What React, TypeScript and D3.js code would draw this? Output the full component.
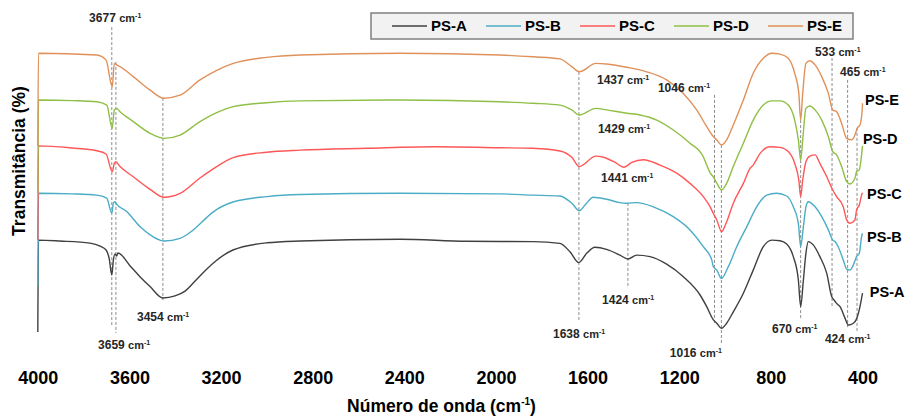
import React, { Component } from 'react';
import * as d3 from 'd3';

const FONT = '"Liberation Sans", Arial, sans-serif';

const seriesNames = ['PS-A', 'PS-B', 'PS-C', 'PS-D', 'PS-E'];
const seriesColors = ['#404040', '#4bacc6', '#ff5757', '#8fbf45', '#e0915a'];
// vertical shift of each trace (in % units) so the spectra are stacked
const seriesOffsets = [0, 15.5, 31, 46.5, 62];

const xTicks = [4000, 3600, 3200, 2800, 2400, 2000, 1600, 1200, 800, 400];

// [wavenumber (cm-1), transmittance (%)]
const psA = [
    [4000, 2.7], [3997, 33.3], [3903, 33.0], [3772, 32.3], [3728, 31.3], [3702, 30.0], [3688, 27.0], [3677, 21.7],
    [3670, 26.7], [3663, 28.7], [3656, 28.0], [3650, 29.0], [3597, 24.7], [3554, 21.1], [3510, 17.8], [3454, 14.0],
    [3401, 14.7], [3357, 16.3], [3309, 20.0], [3263, 23.6], [3219, 26.6], [3148, 30.0], [3000, 32.4], [2855, 33.0],
    [2419, 33.6], [2127, 32.9], [1839, 32.8], [1721, 32.2], [1677, 29.4], [1638, 25.8], [1604, 28.9], [1568, 30.9],
    [1517, 30.2], [1459, 28.3], [1424, 27.0], [1386, 28.3], [1328, 27.8], [1255, 25.3], [1182, 21.1], [1109, 15.0],
    [1080, 11.1], [1051, 6.7], [1036, 5.6], [1016, 3.9], [993, 5.6], [964, 9.4], [920, 15.6], [877, 23.3],
    [833, 31.1], [796, 33.3], [760, 33.1], [731, 32.0], [702, 27.8], [680, 20.0], [670, 11.1], [658, 20.0],
    [647, 28.9], [637, 32.8], [615, 31.7], [586, 27.8], [556, 22.2], [534, 14.4], [524, 13.3], [513, 12.2],
    [498, 11.1], [476, 7.2], [462, 5.0], [440, 5.6], [428, 6.7], [418, 8.9], [411, 11.1], [400, 15.6]
];

const psB = [
    [4000, 2.5], [3997, 33.4], [3850, 33.2], [3743, 32.8], [3699, 31.8], [3677, 26.8], [3670, 30.2], [3663, 30.6],
    [3656, 29.8], [3612, 27.3], [3554, 22.3], [3496, 18.9], [3449, 17.5], [3379, 18.4], [3321, 21.2], [3263, 25.3],
    [3234, 27.2], [3148, 30.5], [3000, 32.3], [2855, 33.0], [2419, 33.4], [1983, 33.2], [1839, 32.8], [1721, 32.5],
    [1669, 30.1], [1636, 27.6], [1611, 29.5], [1575, 32.1], [1517, 31.4], [1459, 30.3], [1427, 30.1], [1386, 30.3],
    [1313, 28.9], [1226, 25.6], [1153, 21.2], [1095, 15.6], [1058, 11.2], [1051, 8.9], [1036, 7.8], [1016, 5.0],
    [986, 8.9], [949, 15.6], [905, 22.3], [862, 28.9], [818, 32.8], [775, 33.4], [731, 32.5], [702, 28.9],
    [680, 23.4], [670, 15.6], [658, 22.3], [647, 28.9], [637, 30.6], [607, 28.9], [578, 25.6], [549, 21.2],
    [530, 17.8], [520, 17.3], [506, 15.6], [484, 11.2], [469, 8.1], [455, 7.8], [440, 9.5], [426, 12.3],
    [414, 13.4], [404, 18.9], [400, 20.1]
];

const psC = [
    [4000, 2.3], [3997, 33.7], [3850, 33.0], [3743, 32.1], [3702, 31.0], [3675, 25.1], [3666, 27.9], [3659, 28.4],
    [3641, 26.8], [3583, 23.4], [3510, 19.2], [3449, 16.6], [3379, 17.9], [3292, 23.0], [3219, 26.8], [3147, 29.8],
    [3001, 31.6], [2855, 32.3], [2564, 32.9], [2275, 33.4], [1983, 33.1], [1839, 32.9], [1721, 32.0], [1669, 29.9],
    [1636, 26.8], [1564, 30.3], [1531, 29.9], [1480, 28.2], [1441, 26.6], [1407, 28.2], [1357, 29.1], [1284, 27.3],
    [1211, 24.6], [1153, 21.2], [1095, 16.8], [1065, 13.4], [1051, 11.2], [1036, 9.0], [1015, 5.1], [993, 8.4],
    [964, 14.6], [920, 21.2], [891, 26.2], [877, 27.3], [847, 31.2], [804, 33.4], [760, 33.2], [724, 31.8],
    [696, 27.9], [678, 22.3], [670, 16.8], [661, 22.3], [647, 28.4], [630, 30.3], [607, 30.7], [586, 27.9],
    [556, 23.4], [530, 19.0], [513, 16.8], [484, 13.4], [469, 9.0], [455, 7.9], [433, 9.0], [426, 12.3],
    [414, 14.0], [404, 17.3], [400, 18.1]
];

const psD = [
    [4000, 2.5], [3997, 33.5], [3850, 33.3], [3743, 32.9], [3699, 31.8], [3675, 24.1], [3666, 30.2], [3656, 30.7],
    [3641, 29.6], [3583, 26.3], [3510, 22.4], [3449, 20.7], [3379, 21.8], [3292, 26.3], [3219, 29.3], [3147, 31.3],
    [3001, 32.6], [2855, 33.2], [2419, 33.5], [1983, 32.9], [1837, 32.4], [1721, 31.8], [1669, 30.2], [1636, 28.5],
    [1564, 30.7], [1517, 30.2], [1429, 29.1], [1371, 28.5], [1298, 26.8], [1226, 23.5], [1153, 19.1], [1095, 14.6],
    [1080, 11.8], [1065, 9.2], [1051, 7.8], [1036, 5.8], [1015, 3.5], [993, 5.7], [964, 11.3], [920, 19.1],
    [877, 26.8], [833, 31.8], [796, 33.2], [760, 33.2], [724, 31.8], [696, 26.8], [680, 20.2], [670, 13.5],
    [661, 20.2], [647, 30.7], [630, 31.5], [607, 30.2], [578, 26.8], [549, 21.3], [530, 16.3], [513, 15.2],
    [491, 11.3], [469, 6.3], [455, 5.5], [433, 7.4], [426, 9.6], [414, 10.2], [404, 15.2], [400, 18.2]
];

const psE = [
    [4000, 2.7], [3997, 33.6], [3743, 33.0], [3702, 31.3], [3675, 22.4], [3666, 30.2], [3656, 29.7], [3641, 29.1],
    [3583, 25.8], [3510, 21.3], [3449, 18.6], [3379, 19.6], [3292, 24.7], [3219, 27.9], [3147, 30.2], [3001, 32.2],
    [2855, 33.0], [2419, 33.6], [1983, 33.0], [1837, 32.4], [1721, 31.7], [1669, 29.1], [1636, 27.4], [1564, 30.2],
    [1517, 30.0], [1429, 28.9], [1342, 27.4], [1255, 24.7], [1182, 20.2], [1124, 14.7], [1080, 9.1], [1051, 5.8],
    [1036, 4.7], [1015, 3.0], [993, 4.7], [964, 9.7], [920, 18.0], [877, 26.9], [833, 31.9], [796, 33.6],
    [760, 33.3], [724, 31.9], [696, 26.9], [678, 20.2], [670, 11.3], [661, 20.2], [647, 30.2], [630, 31.1],
    [607, 29.7], [578, 25.8], [549, 20.2], [530, 14.7], [513, 14.1], [491, 10.2], [469, 5.2], [447, 4.7],
    [433, 6.3], [423, 8.6], [411, 9.7], [402, 14.1], [400, 16.9]
];

const spectra = [psA, psB, psC, psD, psE];

// dashed marker lines: wavenumber, top and bottom (in % units of the stacked axis)
const peakLines = [
    [3677, 104.3, 5], [3659, 92.7, 2.3], [3454, 80.7, 13.3], [1638, 89.3, 6.7], [1424, 45.7, 17.3],
    [1046, 81.7, 5], [1016, 65, -1.7], [670, 73.3, 6.7], [533, 94, 10.7], [465, 86.7, 4.3], [424, 70.7, 2.7]
];

// band labels: text, wavenumber of left edge, baseline level
const peakLabels = [
    ['3677', 3776, 106], ['3659', 3737, -3], ['3454', 3567, 6.3], ['1638', 1751, 0.7], ['1424', 1537, 12],
    ['1437', 1559, 85.3], ['1429', 1555, 69], ['1441', 1541, 52.7], ['1046', 1293, 82.7], ['1016', 1241, -5.7],
    ['670', 795, 2.3], ['533', 607, 94.7], ['465', 498, 88], ['424', 564, -1]
];

// trace names at the right end: wavenumber of left edge, baseline level
const endLabelWn = [368, 380, 380, 398, 389];
const endLabelT = [14.3, 32.7, 47, 65.3, 78.3];

class FtirChart extends Component {

    componentDidMount() {
        this.drawChart();
    }

    drawChart = () => {
        const width = 905;
        const height = 416;

        d3.select('#ftir-chart').selectAll('*').remove();

        const svg = d3.select('#ftir-chart')
            .append('svg')
            .attr('width', width)
            .attr('height', height)
            .style('display', 'block')
            .attr('font-family', FONT);

        svg.append('rect').attr('width', width).attr('height', height).attr('fill', '#fff');

        const x = d3.scaleLinear().domain([4000, 400]).range([37.8, 862.5]);
        const y = d3.scaleLinear().domain([0, 100]).range([340, 40]);

        // dashed marker lines
        svg.append('g')
            .selectAll('line')
            .data(peakLines)
            .enter()
            .append('line')
            .attr('x1', d => x(d[0]))
            .attr('x2', d => x(d[0]))
            .attr('y1', d => y(d[1]))
            .attr('y2', d => y(d[2]))
            .attr('stroke', '#8c8c8c')
            .attr('stroke-width', 1)
            .attr('stroke-dasharray', '3,2');

        // spectra
        spectra.forEach((data, i) => {
            const line = d3.line()
                .x(d => x(d[0]))
                .y(d => y(d[1] + seriesOffsets[i]))
                .curve(d3.curveMonotoneX);

            svg.append('path')
                .attr('d', line(data))
                .attr('fill', 'none')
                .attr('stroke', seriesColors[i])
                .attr('stroke-width', 1.4)
                .attr('stroke-linejoin', 'round');
        });

        // band labels
        const labels = svg.append('g')
            .selectAll('text')
            .data(peakLabels)
            .enter()
            .append('text')
            .attr('x', d => x(d[1]))
            .attr('y', d => y(d[2]))
            .attr('font-size', 12)
            .attr('font-weight', 'bold')
            .attr('fill', '#262626');
        labels.append('tspan').text(d => d[0] + ' ');
        labels.append('tspan').attr('font-size', 11).text('cm');
        labels.append('tspan').attr('font-size', 7).attr('dy', -4).text('-1');

        // trace names
        svg.append('g')
            .selectAll('text')
            .data(seriesNames)
            .enter()
            .append('text')
            .attr('x', (d, i) => x(endLabelWn[i]))
            .attr('y', (d, i) => y(endLabelT[i]))
            .attr('font-size', 14.5)
            .attr('font-weight', 'bold')
            .attr('fill', '#000')
            .text(d => d);

        // x axis (labels only)
        svg.append('g')
            .attr('transform', 'translate(0,366)')
            .call(d3.axisBottom(x).tickValues(xTicks).tickSize(0).tickPadding(5).tickFormat(d3.format('d')))
            .attr('font-size', 18)
            .attr('font-family', FONT)
            .attr('font-weight', 'bold')
            .call(g => g.select('.domain').remove())
            .selectAll('text')
            .attr('fill', '#000');

        const xTitle = svg.append('text')
            .attr('x', 441.5)
            .attr('y', 412)
            .attr('text-anchor', 'middle')
            .attr('font-size', 17.5)
            .attr('font-weight', 'bold')
            .attr('fill', '#000');
        xTitle.append('tspan').text('Número de onda (cm');
        xTitle.append('tspan').attr('font-size', 10).attr('dy', -7).text('-1');
        xTitle.append('tspan').attr('dy', 7).text(')');

        svg.append('text')
            .attr('transform', 'translate(19,161) rotate(-90)')
            .attr('text-anchor', 'middle')
            .attr('dy', '0.35em')
            .attr('font-size', 17.5)
            .attr('font-weight', 'bold')
            .attr('fill', '#000')
            .text('Transmitância (%)');

        // legend
        const legend = svg.append('g');
        legend.append('rect')
            .attr('x', 371)
            .attr('y', 13)
            .attr('width', 482)
            .attr('height', 26)
            .attr('fill', '#f2f2f2')
            .attr('stroke', '#808080')
            .attr('stroke-width', 1.5);

        const items = legend.selectAll('.legend-item')
            .data(seriesNames)
            .enter()
            .append('g')
            .attr('class', 'legend-item')
            .attr('transform', (d, i) => 'translate(' + (392 + i * 94) + ',26)');

        items.append('line')
            .attr('x1', 0)
            .attr('x2', 35)
            .attr('stroke', (d, i) => seriesColors[i])
            .attr('stroke-width', 1.5);

        items.append('text')
            .attr('x', 39)
            .attr('y', 5)
            .attr('font-size', 15)
            .attr('font-weight', 'bold')
            .attr('fill', '#000')
            .text(d => d);
    }

    render() {
        return (
            <div id="ftir-chart" style={{ position: 'absolute', left: 0, top: 0, width: 905, height: 416 }}></div>
        );
    }
}

export default function App() {
    return <FtirChart />;
}
